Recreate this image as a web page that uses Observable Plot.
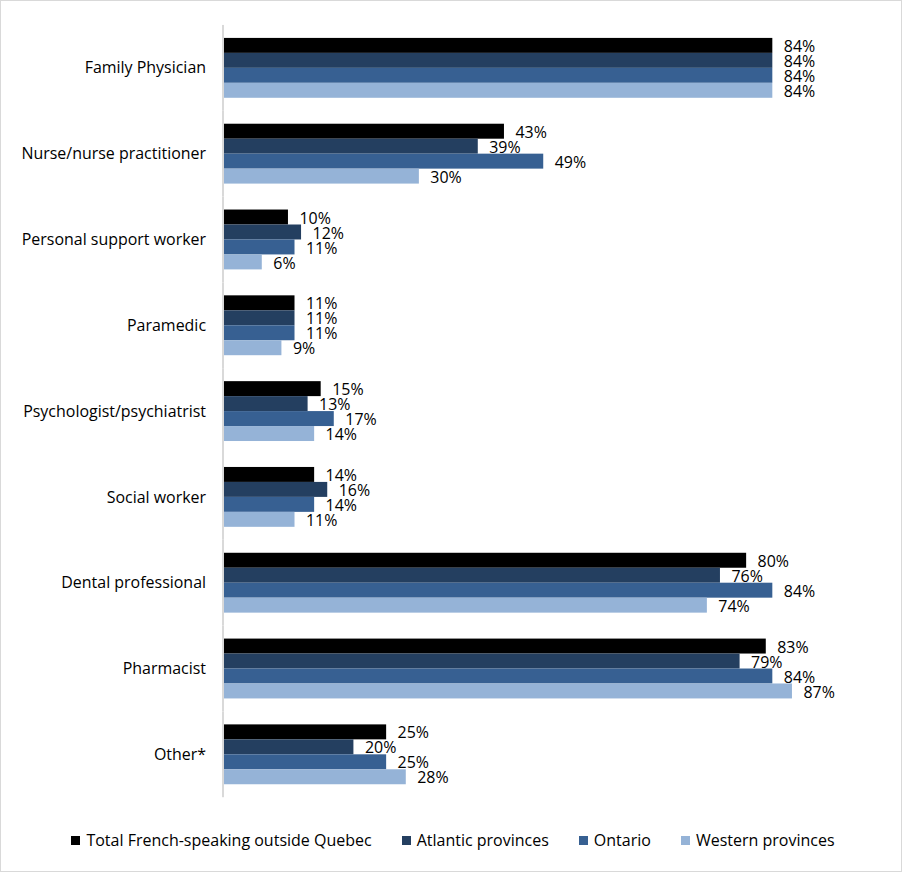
<!DOCTYPE html>
<html>
<head>
<meta charset="utf-8">
<script src="https://cdn.jsdelivr.net/npm/d3@7"></script>
<script src="https://cdn.jsdelivr.net/npm/@observablehq/plot@0.6"></script>
<style>
  html, body { margin: 0; padding: 0; background: #fff; }
  #chart {
    width: 902px; height: 872px; box-sizing: border-box;
    border: 1px solid #d9d9d9; position: relative; overflow: hidden;
    font-family: "Open Sans", sans-serif;
  }
  #chart svg { position: absolute; left: -1px; top: -1px; }
  #legend {
    position: absolute; left: 4px; right: 0; top: 828px;
    display: flex; justify-content: center; align-items: center;
    font-size: 16px; color: #000;
  }
  .item { display: flex; align-items: center; margin: 0 15px; }
  .sw { width: 9px; height: 9px; margin-right: 6px; }
</style>
</head>
<body>
<div id="chart"></div>
<script>
const categories = [
  "Family Physician",
  "Nurse/nurse practitioner",
  "Personal support worker",
  "Paramedic",
  "Psychologist/psychiatrist",
  "Social worker",
  "Dental professional",
  "Pharmacist",
  "Other*"
];
const series = [
  "Total French-speaking outside Quebec",
  "Atlantic provinces",
  "Ontario",
  "Western provinces"
];
const colors = ["#000000", "#243f60", "#376092", "#95b3d7"];
const totalValues    = [84, 43, 10, 11, 15, 14, 80, 83, 25];
const atlanticValues = [84, 39, 12, 11, 13, 16, 76, 79, 20];
const ontarioValues  = [84, 49, 11, 11, 17, 14, 84, 84, 25];
const westernValues  = [84, 30,  6,  9, 14, 11, 74, 87, 28];

const seriesValues = [totalValues, atlanticValues, ontarioValues, westernValues];
const data = [];
categories.forEach((c, i) => {
  series.forEach((s, j) => {
    data.push({category: c, series: s, value: seriesValues[j][i]});
  });
});

const plot = Plot.plot({
  width: 902,
  height: 815,
  marginLeft: 223,
  marginRight: 23,
  marginTop: 24,
  marginBottom: 15,
  style: {fontFamily: "'Open Sans', sans-serif", fontSize: "16px", color: "#000", background: "transparent"},
  x: {domain: [0, 100], axis: null},
  y: {domain: series, padding: 0, axis: null},
  fy: {domain: categories, paddingInner: 0.3, paddingOuter: 0.15, label: null, tickSize: 0, tickPadding: 17, fontSize: 16},
  color: {domain: series, range: colors},
  marks: [
    Plot.barX(data, {x: "value", y: "series", fy: "category", fill: "series"}),
    Plot.ruleX([0], {stroke: "#d9d9d9", strokeWidth: 2, insetTop: -13, insetBottom: -13}),
    Plot.text(data, {x: "value", y: "series", fy: "category", text: d => d.value + "%", textAnchor: "start", dx: 11, dy: 1, fontSize: 16, fill: "#000"})
  ]
});
document.getElementById("chart").appendChild(plot);

const legend = document.createElement("div");
legend.id = "legend";
series.forEach((s, j) => {
  const item = document.createElement("div");
  item.className = "item";
  const sw = document.createElement("span");
  sw.className = "sw";
  sw.style.background = colors[j];
  const t = document.createElement("span");
  t.textContent = s;
  item.appendChild(sw);
  item.appendChild(t);
  legend.appendChild(item);
});
document.getElementById("chart").appendChild(legend);
</script>
</body>
</html>
